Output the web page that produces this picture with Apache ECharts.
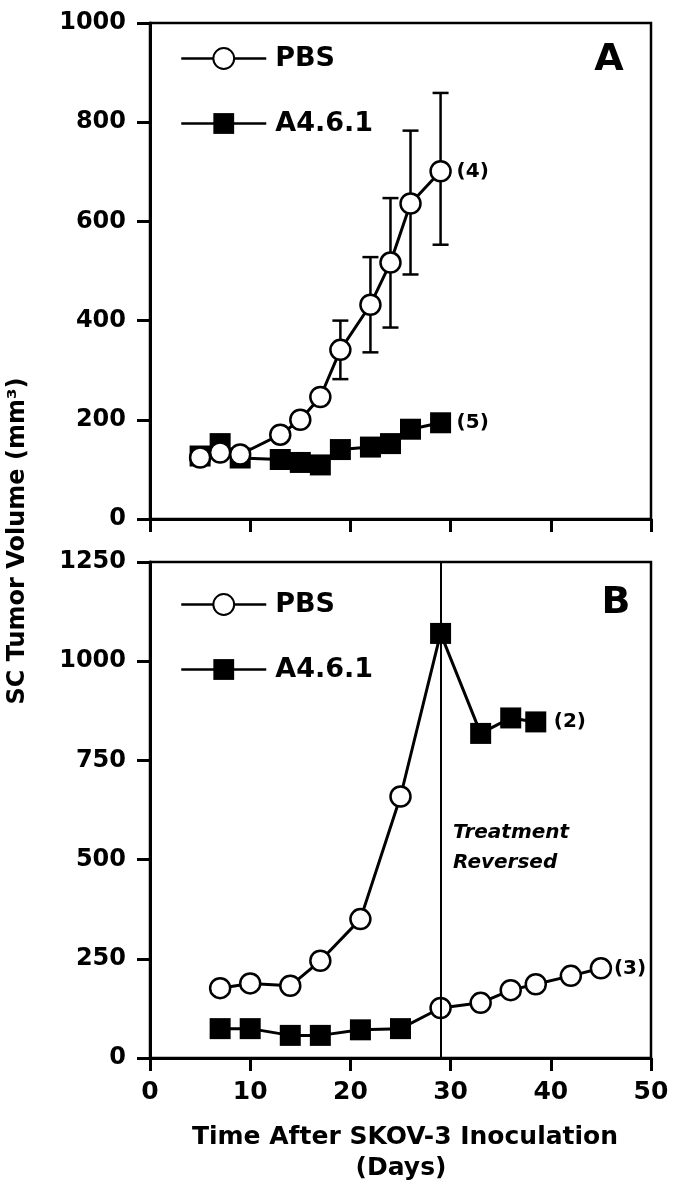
<!DOCTYPE html>
<html><head><meta charset="utf-8">
<script src="https://cdn.jsdelivr.net/npm/echarts@6/dist/echarts.min.js"></script>
<style>html,body{margin:0;padding:0;background:#fff}#c{width:676px;height:1199px}</style>
</head><body><div id="c"></div><script>
// ---- Data ----
const seriesNames = ['PBS', 'A4.6.1'];
// Panel A
const daysA = [5, 7, 9, 13, 15, 17, 19, 22, 24, 26, 29];
const pbsA = [124, 134, 130, 170, 200, 246, 341, 432, 517, 636, 701];
const a461A = [127, 152, 123, 120, 114, 109, 140, 145, 152, 181, 194];
const errDaysA = [19, 22, 24, 26, 29];
const errLowA = [282, 336, 386, 493, 553];
const errHighA = [400, 528, 647, 783, 859];
const endLabelsA = ['(4)', '(5)'];
// Panel B (treatment reversed at day 29)
const daysB = [7, 10, 14, 17, 21, 25, 29, 33, 36, 38.5, 42, 45];
const pbsB = [176, 188, 182, 245, 350, 659, 1070, 818, 857, 847];
const a461B = [74, 74, 57, 57, 71, 74, 126, 139, 171, 186, 207, 226];
const endLabelsB = ['(2)', '(3)'];
const reversalDay = 29;
// Axes
const xMin = 0, xMax = 50, xStep = 10;
const yMaxA = 1000, yStepA = 200;
const yMaxB = 1250, yStepB = 250;

// ---- Styles ----
const FONT = '"DejaVu Sans", "Liberation Sans", Arial, sans-serif';
const circleStyle = { color: '#fff', borderColor: '#000', borderWidth: 2.5 };
const squareStyle = { color: '#000', borderColor: '#000', borderWidth: 0 };
const CIRCLE = 20, SQUARE = 21;
const lineStyle = { color: '#000', width: 3 };

function pt(x, y, sym) {
  return {
    value: [x, y],
    symbol: sym,
    symbolSize: sym === 'circle' ? CIRCLE : SQUARE,
    itemStyle: sym === 'circle' ? circleStyle : squareStyle
  };
}
function endLabel(txt, dist) {
  return { show: true, formatter: txt, distance: dist, fontFamily: FONT, fontWeight: 'bold', fontSize: 20, color: '#000' };
}

const grids = [
  { left: 150, top: 23, width: 501, height: 496, show: true, borderColor: '#000', borderWidth: 2.5 },
  { left: 150, top: 562, width: 501, height: 496, show: true, borderColor: '#000', borderWidth: 2.5 }
];
function xAxis(gi, showLabels) {
  return {
    type: 'value', gridIndex: gi, min: xMin, max: xMax, interval: xStep,
    axisLine: { lineStyle: { color: '#000', width: 3 } },
    axisTick: { inside: false, length: 13, lineStyle: { color: '#000', width: 3 } },
    axisLabel: { show: showLabels, margin: 22, fontFamily: FONT, fontWeight: 'bold', fontSize: 25, color: '#000' },
    splitLine: { show: false }
  };
}
function yAxis(gi, max, step) {
  return {
    type: 'value', gridIndex: gi, min: 0, max: max, interval: step,
    axisLine: { show: true, lineStyle: { color: '#000', width: 3 } },
    axisTick: { show: true, inside: false, length: 13, lineStyle: { color: '#000', width: 3 } },
    axisLabel: { margin: 24, fontFamily: FONT, fontWeight: 'bold', fontSize: 24, color: '#000', formatter: v => String(v) },
    splitLine: { show: false }
  };
}

const errData = errDaysA.map((d, i) => [d, errLowA[i], errHighA[i]]);

const seriesList = [
  {
    type: 'custom', xAxisIndex: 0, yAxisIndex: 0, z: 1,
    data: errData,
    renderItem: function (params, api) {
      const x = api.value(0);
      const lo = api.coord([x, api.value(1)]);
      const hi = api.coord([x, api.value(2)]);
      const hw = 8;
      const st = { stroke: '#000', lineWidth: 2.5 };
      return {
        type: 'group',
        children: [
          { type: 'line', shape: { x1: lo[0], y1: lo[1], x2: hi[0], y2: hi[1] }, style: st },
          { type: 'line', shape: { x1: lo[0] - hw, y1: lo[1], x2: lo[0] + hw, y2: lo[1] }, style: st },
          { type: 'line', shape: { x1: hi[0] - hw, y1: hi[1], x2: hi[0] + hw, y2: hi[1] }, style: st }
        ]
      };
    }
  },
  {
    name: seriesNames[1], type: 'line', xAxisIndex: 0, yAxisIndex: 0, z: 2,
    symbol: 'rect', symbolSize: SQUARE, itemStyle: squareStyle, lineStyle: lineStyle,
    data: daysA.map((d, i) => [d, a461A[i]]),
    endLabel: endLabel(endLabelsA[1], 16), animation: false
  },
  {
    name: seriesNames[0], type: 'line', xAxisIndex: 0, yAxisIndex: 0, z: 3,
    symbol: 'circle', symbolSize: CIRCLE, itemStyle: circleStyle, lineStyle: lineStyle,
    data: daysA.map((d, i) => [d, pbsA[i]]),
    endLabel: endLabel(endLabelsA[0], 16), animation: false
  },
  {
    name: seriesNames[0], type: 'line', xAxisIndex: 1, yAxisIndex: 1, z: 3,
    symbol: 'circle', symbolSize: CIRCLE, itemStyle: circleStyle, lineStyle: lineStyle,
    data: pbsB.map((v, i) => pt(daysB[i], v, daysB[i] < reversalDay ? 'circle' : 'rect')),
    endLabel: endLabel(endLabelsB[0], 18), animation: false,
    markLine: {
      silent: true, symbol: ['none', 'none'], label: { show: false },
      lineStyle: { color: '#000', width: 2, type: 'solid' },
      data: [{ xAxis: reversalDay }]
    }
  },
  {
    name: seriesNames[1], type: 'line', xAxisIndex: 1, yAxisIndex: 1, z: 3,
    symbol: 'rect', symbolSize: SQUARE, itemStyle: squareStyle, lineStyle: lineStyle,
    data: a461B.map((v, i) => pt(daysB[i], v, daysB[i] < reversalDay ? 'rect' : 'circle')),
    endLabel: endLabel(endLabelsB[1], 13), animation: false
  }
];

function legend(top) {
  return {
    left: 175, top: top, orient: 'vertical', selectedMode: false,
    itemWidth: 85, itemHeight: 26, itemGap: 38,
    data: seriesNames,
    lineStyle: { width: 2.5, color: '#000' },
    textStyle: { fontFamily: FONT, fontWeight: 'bold', fontSize: 27, color: '#000', padding: [0, 0, 0, 4] }
  };
}

const txt = (t, x, y, font, align) => ({
  type: 'text', x: x, y: y,
  style: { text: t, font: font, fill: '#000', align: align || 'center', verticalAlign: 'middle' }
});

const option = {
  backgroundColor: '#fff',
  animation: false,
  grid: grids,
  xAxis: [xAxis(0, false), xAxis(1, true)],
  yAxis: [yAxis(0, yMaxA, yStepA), yAxis(1, yMaxB, yStepB)],
  legend: [legend(40), legend(586)],
  series: seriesList,
  graphic: [
    {
      type: 'text', x: 18, y: 541, rotation: Math.PI / 2,
      style: { text: 'SC Tumor Volume (mm³)', font: 'bold 24px ' + FONT, fill: '#000', align: 'center', verticalAlign: 'middle' }
    },
    txt('Time After SKOV-3 Inoculation', 405, 1137, 'bold 25px ' + FONT),
    txt('(Days)', 401, 1168, 'bold 25px ' + FONT),
    txt('A', 609, 60, 'bold 38px ' + FONT),
    txt('B', 616, 603, 'bold 38px ' + FONT),
    txt('Treatment', 453, 833, 'italic bold 20px ' + FONT, 'left'),
    txt('Reversed', 453, 863, 'italic bold 20px ' + FONT, 'left')
  ]
};

const chart = echarts.init(document.getElementById('c'), null, { renderer: 'canvas' });
chart.setOption(option);
</script></body></html>
